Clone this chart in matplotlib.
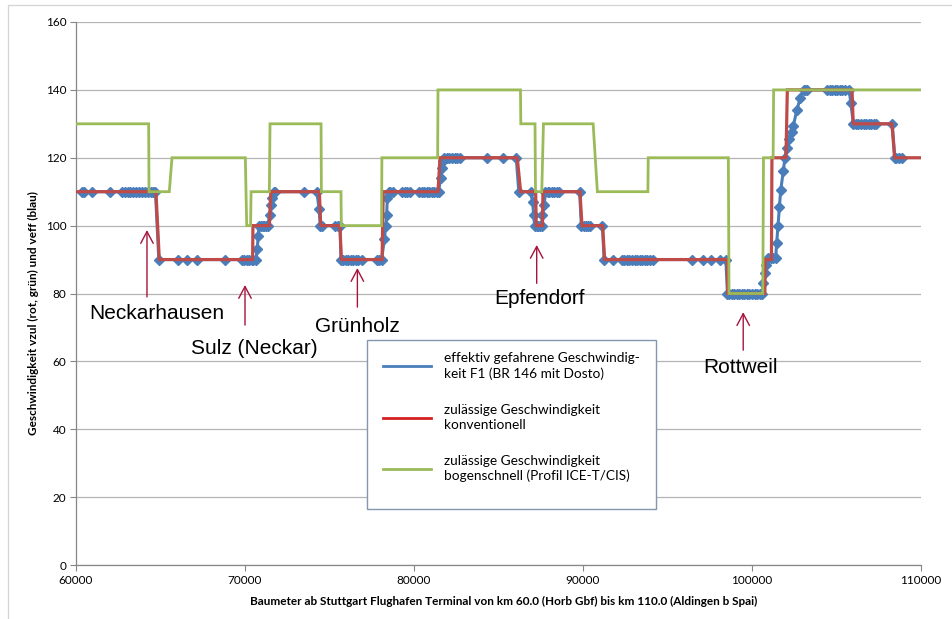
import matplotlib
matplotlib.use("Agg")
import matplotlib.pyplot as plt
from matplotlib.lines import Line2D
from matplotlib.patches import Rectangle

# --- speed profiles along the line (position in m, speed in km/h) ---
green_km = [60000, 64300, 64320, 65520, 65680, 70020, 70100, 70330, 70360, 71440,
            71480, 74500, 74520, 75680, 75700, 78080, 78100, 81400, 81420, 86300,
            86320, 87160, 87190, 87560, 87660, 90600, 90850, 93840, 93860, 98600,
            98640, 100640, 100680, 101250, 101280, 110000]
green_v = [130, 130, 110, 110, 120, 120, 100, 100, 110, 110,
           130, 130, 110, 110, 100, 100, 120, 120, 140, 140,
           130, 130, 110, 110, 130, 130, 110, 110, 120, 120,
           80, 80, 120, 120, 140, 140]

red_km = [60000, 64730, 64930, 70450, 70470, 71440, 71530, 74400, 74480, 75620,
          75700, 78110, 78180, 81420, 81540, 86110, 86310, 87200, 87230, 87600,
          87630, 89820, 89940, 91160, 91280, 98530, 98560, 100760, 100780, 101150,
          101180, 102010, 102090, 105920, 105990, 108280, 108440, 110000]
red_v = [110, 110, 90, 90, 100, 100, 110, 110, 100, 100,
         90, 90, 110, 110, 120, 120, 110, 110, 100, 100,
         110, 110, 100, 100, 90, 90, 80, 80, 90, 90,
         120, 120, 140, 140, 130, 130, 120, 120]

blue_km = [60350, 60500, 60950, 62000, 62700, 62900, 63050, 63200, 63400, 63550,
           63750, 63900, 64100, 64250, 64450, 64550, 64700,
           64900,
           66050, 66550, 67150, 68800, 69800, 69950, 70100, 70250, 70400, 70500, 70650,
           70720, 70780, 70830,
           70950, 71050, 71150, 71250, 71350,
           71450, 71550, 71620, 71700,
           71800, 73500, 74250,
           74380, 74450,
           74550, 75300, 75500, 75620,
           75680,
           75800, 75950, 76100, 76250, 76400, 76550, 76700, 76900, 77800, 77950, 78080,
           78250, 78330, 78380, 78420, 78520,
           78600, 78750, 79300, 79450, 79600, 79750, 80300, 80450, 80600, 80750,
           80900, 81050, 81200, 81350, 81450,
           81580, 81640, 81720,
           81800, 81950, 82100, 82250, 82400, 82550, 82700, 84300, 85250, 86050,
           86200,
           86900,
           87020, 87080, 87140,
           87250, 87350, 87450, 87550,
           87600, 87700, 87780,
           87900, 88000, 88150, 88300, 88450, 88600, 89800,
           89900,
           90050, 90150, 90300, 90400, 91150,
           91250,
           91800, 92300, 92450, 92600, 92750, 92900, 93050, 93200, 93350, 93500,
           93650, 93800, 93950, 94150, 96450, 97100, 97550, 98100, 98450,
           98550,
           98650, 98800, 98950, 99100, 99250, 99400, 99550, 99700, 99850, 100000,
           100150, 100300, 100450, 100600,
           100680, 100750, 100820,
           100950, 101100, 101250, 101400,
           101460, 101540, 101620, 101700, 101850, 101950, 102050, 102200, 102350,
           102450, 102650, 102850, 103050,
           103150, 103250, 104450, 104600, 104750, 104900, 105050, 105200, 105350,
           105500, 105750,
           105850,
           106000, 106150, 106300, 106450, 106600, 106750, 106900, 107050, 107200,
           107350, 108300,
           108450,
           108550, 108700, 108850]
blue_v = [110] * 17 + \
         [90] + \
         [90] * 11 + \
         [93, 97, 100] + \
         [100] * 5 + \
         [103, 106, 108, 110] + \
         [110] * 3 + \
         [105, 100] + \
         [100] * 4 + \
         [90] + \
         [90] * 11 + \
         [96, 100, 103, 108, 110] + \
         [110] * 15 + \
         [114, 117, 119] + \
         [120] * 10 + \
         [110] + \
         [110] + \
         [107, 103, 100] + \
         [100] * 4 + \
         [103, 106, 110] + \
         [110] * 7 + \
         [100] + \
         [100] * 5 + \
         [90] + \
         [90] * 19 + \
         [80] + \
         [80] * 14 + \
         [83, 86, 88.5] + \
         [90.5] * 4 + \
         [95, 100, 105.5, 110.5, 116, 120, 123, 125.5, 127.5, 129.5, 134, 137.5, 140] + \
         [140] * 11 + \
         [136] + \
         [130] * 11 + \
         [120] + \
         [120] * 3

# --- station markers ---
stations = ["Neckarhausen", "Sulz (Neckar)", "Grünholz", "Epfendorf", "Rottweil"]
station_km = [64200, 70000, 76650, 87260, 99480]
arrow_tip = [98.7, 82.5, 87.5, 94.3, 74.5]
arrow_tail = [79, 70.7, 76, 83, 63.3]
label_km = [64800, 70530, 76630, 87450, 99290]
label_v = [74.2, 63.9, 70.4, 78.4, 58.3]

legend_labels = ["effektiv gefahrene Geschwindig-\nkeit F1 (BR 146 mit Dosto)",
                 "zulässige Geschwindigkeit\nkonventionell",
                 "zulässige Geschwindigkeit\nbogenschnell (Profil ICE-T/CIS)"]

x_ticks = [60000, 70000, 80000, 90000, 100000, 110000]
y_ticks = [0, 20, 40, 60, 80, 100, 120, 140, 160]

BLUE = "#4A7EBB"
RED = "#BE4B48"
GREEN = "#9BBB59"
ARROW = "#A6133C"

plt.rcParams["font.family"] = ["Lato", "DejaVu Sans"]

W, H = 952, 619
fig = plt.figure(figsize=(W / 100, H / 100), dpi=100)
fig.patch.set_facecolor("white")

# outer chart-area frame
fig.add_artist(Rectangle((8 / W, -0.1), 1.2, 1 - 5 / H + 0.1,
                         transform=fig.transFigure, fill=False,
                         edgecolor="#D4D4D4", lw=0.9))

ax = fig.add_axes([76 / W, 1 - 565 / H, (921 - 76) / W, (565 - 22) / H])

ax.plot(blue_km, blue_v, color=BLUE, lw=2.2, marker="D", markersize=4.6,
        markerfacecolor=BLUE, markeredgecolor=BLUE, zorder=2)
ax.plot(red_km, red_v, color=RED, lw=2.3, zorder=3, solid_joinstyle="miter")
ax.plot(green_km, green_v, color=GREEN, lw=2.0, zorder=4, solid_joinstyle="miter")

ax.set_xlim(60000, 110000)
ax.set_ylim(0, 160)
ax.set_xticks(x_ticks)
ax.set_yticks(y_ticks)
ax.set_xticklabels([str(t) for t in x_ticks])
ax.set_yticklabels([str(t) for t in y_ticks])

ax.yaxis.grid(True, color="#B4B4B4", lw=0.9)
ax.set_axisbelow(True)
for side in ("top", "right"):
    ax.spines[side].set_visible(False)
for side in ("left", "bottom"):
    ax.spines[side].set_color("#868686")
    ax.spines[side].set_linewidth(0.9)
ax.tick_params(direction="out", length=4, width=0.8, color="#868686",
               labelsize=8.5, pad=3)

for name, x, tip, tail, lx, ly in zip(stations, station_km, arrow_tip,
                                       arrow_tail, label_km, label_v):
    ax.annotate("", xy=(x, tip), xytext=(x, tail),
                arrowprops=dict(arrowstyle="->,head_width=0.45,head_length=0.85",
                                color=ARROW, lw=1.0, mutation_scale=10,
                                shrinkA=0, shrinkB=0))
    ax.text(lx, ly, name, ha="center", va="center", fontsize=15,
            family="Liberation Sans", color="black")

# legend box with its own frame, drawn inside the axes just under the legend
legend_box = Rectangle((367 / W, 1 - 509 / H), (656 - 367) / W, (509 - 340) / H,
                       transform=fig.transFigure, facecolor="white",
                       edgecolor="#8497B0", lw=1.0, zorder=9, clip_on=False)
ax.add_artist(legend_box)

handles = [Line2D([], [], color=BLUE, lw=2),
           Line2D([], [], color="#D42020", lw=2),
           Line2D([], [], color=GREEN, lw=2)]
leg = ax.legend(handles, legend_labels, loc="upper left",
                bbox_to_anchor=(367 / W, 1 - 336 / H),
                bbox_transform=fig.transFigure,
                fontsize=9.8, frameon=False,
                borderpad=1.2, labelspacing=1.75, handlelength=3.5,
                handletextpad=0.95, borderaxespad=0)
for t in leg.get_texts():
    t.set_linespacing(1.3)
leg.set_zorder(10)

fig.text(504 / W, 1 - 601 / H,
         "Baumeter ab Stuttgart Flughafen Terminal von km 60.0 (Horb Gbf) bis km 110.0 (Aldingen b Spai)",
         ha="center", va="center", fontsize=8.5, fontweight="bold")
fig.text(33 / W, 1 - 313 / H,
         "Geschwindigkeit vzul (rot, grün) und veff (blau)",
         ha="center", va="center", rotation=90, fontsize=8.5, fontweight="bold")

fig.savefig("out.png", dpi=100, facecolor="white")
